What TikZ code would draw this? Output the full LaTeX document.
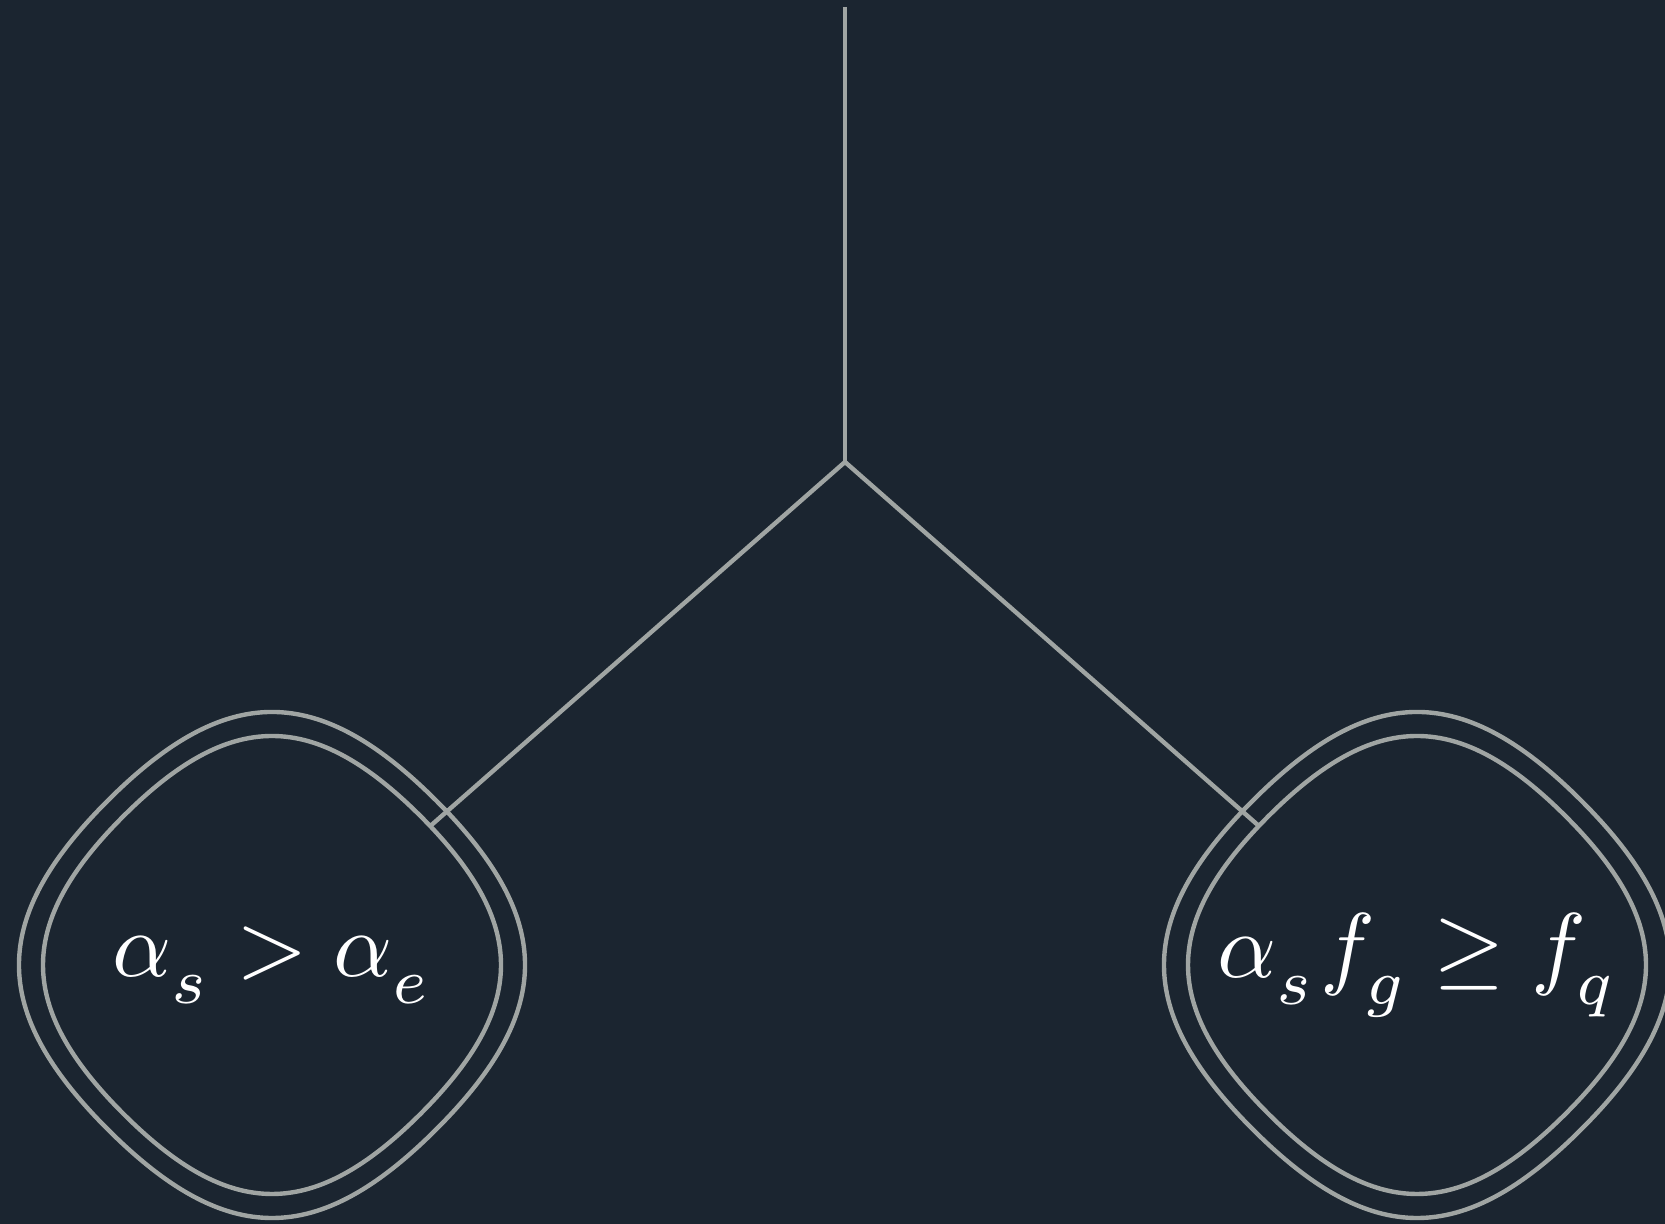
\documentclass[tikz,border=0pt]{standalone}
\usepackage{graphicx}
\usetikzlibrary{shapes.geometric}
\definecolor{bg}{RGB}{27,37,48}
\definecolor{ln}{RGB}{160,165,163}
\newcommand\lsub[1]{_{\lower1.4pt\hbox{$\scriptstyle #1$}}}
\newcommand\ringdraw[3]{%
  \pgfmathsetmacro\rh{#2}\pgfmathsetmacro\rk{#2*#3}%
  \draw[ringline,shift={(#1)}] (\rh,\rh)
    .. controls ({\rh-\rk},{\rh+\rk}) and ({-\rh+\rk},{\rh+\rk}) .. (-\rh,\rh)
    .. controls ({-\rh-\rk},{\rh-\rk}) and ({-\rh-\rk},{-\rh+\rk}) .. (-\rh,-\rh)
    .. controls ({-\rh+\rk},{-\rh-\rk}) and ({\rh-\rk},{-\rh-\rk}) .. (\rh,-\rh)
    .. controls ({\rh+\rk},{-\rh+\rk}) and ({\rh+\rk},{\rh-\rk}) .. cycle;}
\begin{document}
\begin{tikzpicture}[x=0.5pt,y=0.5pt,
  conn/.style={draw=ln, line width=2.2pt},
  ringline/.style={draw=ln, line width=2.2pt},
  dianode/.style={diamond, minimum size=297pt, inner sep=0pt, outer sep=0pt, text=white}]
\fill[bg] (0,0) rectangle (1665,1224);
\useasboundingbox (0,0) rectangle (1665,1224);
\coordinate (top) at (845,1217);
\coordinate (junc) at (845,762);
\node[dianode] (L) at (272,259) {\scalebox{4.6}{$\alpha\lsub{s} > \alpha\lsub{e}$}};
\node[dianode] (R) at (1417,259) {\scalebox{4.6}{$\alpha\lsub{s}\mkern1mu f\lsub{g} \geq f\lsub{q}$}};
\ringdraw{L}{148.7}{0.72}
\ringdraw{L}{164.3}{0.72}
\ringdraw{R}{148.7}{0.72}
\ringdraw{R}{164.3}{0.72}
\draw[conn] (top) -- (junc);
\draw[conn] (junc) -- (L);
\draw[conn] (junc) -- (R);
\end{tikzpicture}
\end{document}
